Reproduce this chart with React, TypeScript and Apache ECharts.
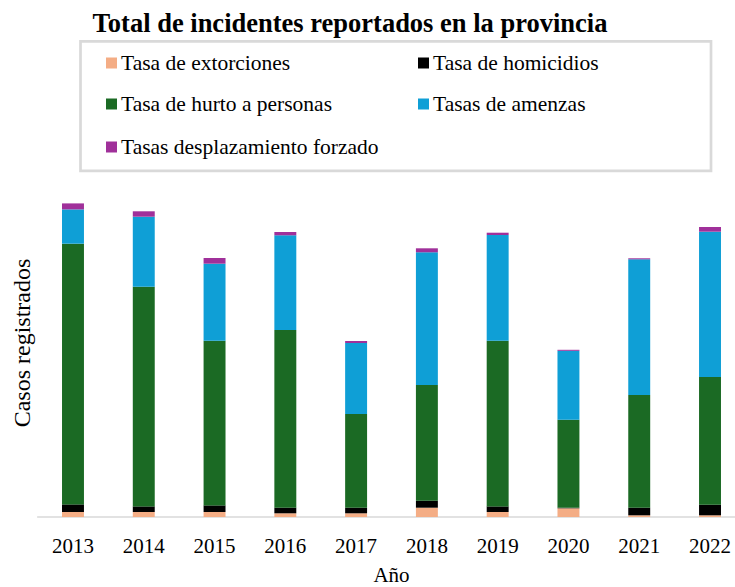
import React, { useEffect, useRef } from "react";
import * as echarts from "echarts";

const years = ["2013", "2014", "2015", "2016", "2017", "2018", "2019", "2020", "2021", "2022"];
const extorsiones = [5, 5, 5, 3.7, 3.7, 9.3, 5, 8.7, 1.7, 1.7];
const homicidios = [7.6, 5.6, 6.6, 5.6, 5.6, 7, 5.6, 0.5, 7.6, 10.6];
const hurto = [260.7, 219.7, 164.7, 177.7, 93.7, 115.7, 165.7, 88, 112.7, 127.7];
const amenazas = [34.3, 70, 77, 94.7, 71, 132.7, 105.7, 69, 135.7, 145.3];
const desplazamiento = [6, 5.4, 5.7, 3.3, 2, 4, 2.3, 1, 1, 4.7];

const seriesNames = [
  "Tasa de extorciones",
  "Tasa de homicidios",
  "Tasa de hurto a personas",
  "Tasas de amenzas",
  "Tasas desplazamiento forzado",
];
const seriesData = [extorsiones, homicidios, hurto, amenazas, desplazamiento];
const colors = ["#F4AD85", "#000000", "#1B6A24", "#0F9FD6", "#A0309A"];

const FONT = "Liberation Serif";

export default function App() {
  const ref = useRef<HTMLDivElement>(null);
  useEffect(() => {
    if (!ref.current) return;
    const chart = echarts.init(ref.current, undefined, { renderer: "svg" });
    const legendPos = [
      { left: 106, top: 52 },
      { left: 418, top: 52 },
      { left: 106, top: 93 },
      { left: 418, top: 93 },
      { left: 106, top: 136 },
    ];
    chart.setOption({
      animation: false,
      color: colors,
      title: {
        text: "Total de incidentes reportados en la provincia",
        left: 345,
        top: 4,
        textAlign: "center",
        textStyle: { fontFamily: FONT, fontSize: 26.5, fontWeight: "bold", color: "#000" },
      },
      legend: seriesNames.map((n, i) => ({
        data: [n],
        left: legendPos[i].left,
        top: legendPos[i].top,
        padding: 0,
        itemWidth: 11,
        itemHeight: 11,
        itemGap: 0,
        icon: "rect",
        selectedMode: false,
        textStyle: { fontFamily: FONT, fontSize: 21.5, color: "#000", padding: [0, 0, 0, -1] },
      })),
      graphic: [
        {
          type: "rect",
          shape: { x: 80.5, y: 41.3, width: 630.5, height: 129.5 },
          style: { fill: "none", stroke: "#d9d9d9", lineWidth: 2.7 },
          silent: true,
        },
        {
          type: "text",
          x: 22,
          y: 343,
          rotation: Math.PI / 2,
          style: {
            text: "Casos registrados",
            fontFamily: FONT,
            fontSize: 24,
            fill: "#000",
            align: "center",
            verticalAlign: "middle",
          },
        },
      ],
      grid: {
        left: 37.6,
        right: -10.4,
        top: 190,
        bottom: 70,
        containLabel: false,
        outerBoundsMode: "none",
      },
      xAxis: {
        type: "category",
        data: years,
        name: "Año",
        nameLocation: "middle",
        nameGap: 47,
        nameTextStyle: { fontFamily: FONT, fontSize: 21, color: "#000" },
        axisTick: { show: false },
        axisLine: { lineStyle: { color: "#d9d9d9", width: 1.5 } },
        axisLabel: { fontFamily: FONT, fontSize: 21, color: "#000", margin: 18 },
      },
      yAxis: { type: "value", min: 0, max: 327, show: false },
      series: seriesNames.map((n, i) => ({
        name: n,
        type: "bar",
        stack: "total",
        barWidth: "31%",
        data: seriesData[i],
        itemStyle: { color: colors[i] },
      })),
    });
    return () => chart.dispose();
  }, []);
  return (
    <div
      ref={ref}
      style={{ position: "fixed", left: 0, top: 0, width: 735, height: 587, background: "#fff" }}
    />
  );
}
